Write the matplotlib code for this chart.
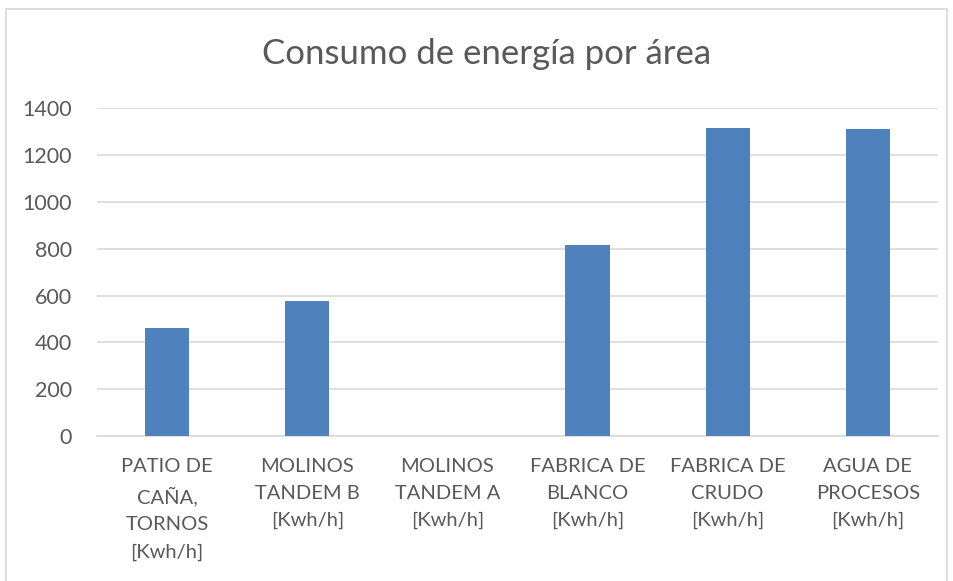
import matplotlib
matplotlib.use("Agg")
import matplotlib.pyplot as plt
from matplotlib.patches import Rectangle

# ── Datos ────────────────────────────────────────────────────────────────────
categorias = [
    "PATIO DE\nCAÑA,\nTORNOS\n[Kwh/h]",
    "MOLINOS\nTANDEM B\n[Kwh/h]",
    "MOLINOS\nTANDEM A\n[Kwh/h]",
    "FABRICA DE\nBLANCO\n[Kwh/h]",
    "FABRICA DE\nCRUDO\n[Kwh/h]",
    "AGUA DE\nPROCESOS\n[Kwh/h]",
]
consumo = [460, 575, 0, 817, 1316, 1313]
y_ticks = [0, 200, 400, 600, 800, 1000, 1200, 1400]

TEXT = "#595959"
GRID = "#D9D9D9"
BAR = "#4F81BD"

plt.rcParams["font.family"] = ["Lato", "DejaVu Sans"]

fig = plt.figure(figsize=(9.54, 5.81), dpi=100)
fig.patches.append(Rectangle((0.006, -0.05), 0.987, 1.035, transform=fig.transFigure,
                             fill=False, edgecolor="#D9D9D9", linewidth=1.2))

ax = fig.add_axes([0.1017, 0.2497, 0.8815, 0.5639])
x = range(len(categorias))
ax.bar(x, consumo, width=0.317, color=BAR, zorder=3)

ax.set_xlim(-0.5, len(categorias) - 0.5)
ax.set_ylim(0, 1400)
ax.set_yticks(y_ticks)
ax.set_yticklabels([str(v) for v in y_ticks], fontsize=15.5, color=TEXT)
ax.set_xticks(list(x))
ax.set_xticklabels(categorias, fontsize=14.5, color=TEXT, linespacing=1.7,
                   va="top", ha="center")
ax.tick_params(axis="both", length=0)
ax.tick_params(axis="x", pad=16)
ax.tick_params(axis="y", pad=18)

ax.grid(axis="y", color=GRID, linewidth=1.2, zorder=0)
for s in ["top", "right", "left"]:
    ax.spines[s].set_visible(False)
ax.spines["bottom"].set_color(GRID)
ax.spines["bottom"].set_linewidth(1.2)

fig.text(0.51, 0.8898, "Consumo de energía por área", ha="center", va="baseline",
         fontsize=25, color=TEXT)

fig.savefig("out.png", dpi=100)
